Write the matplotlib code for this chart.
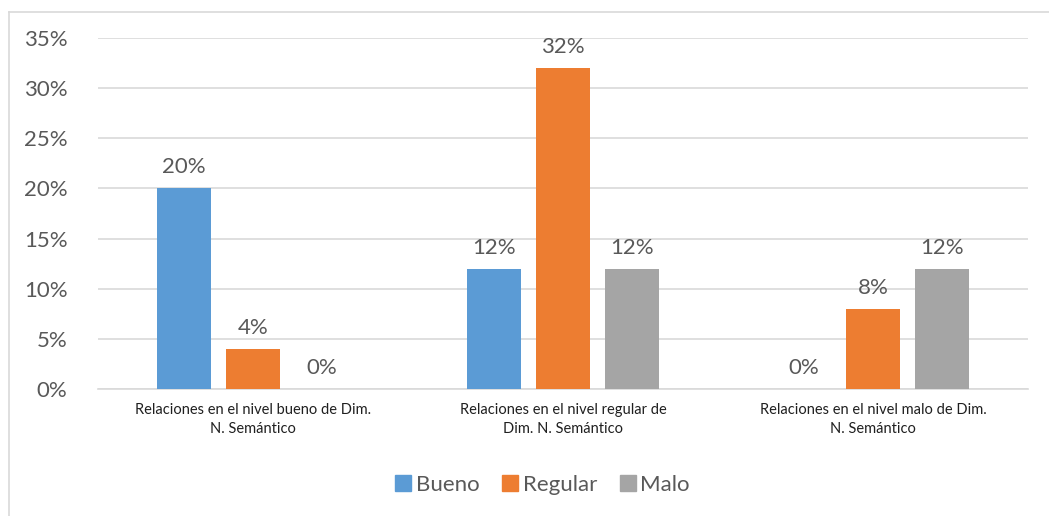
import matplotlib.pyplot as plt
import matplotlib.ticker
import numpy as np
from matplotlib.lines import Line2D

categories = [
    "Relaciones en el nivel bueno de Dim.\nN. Semántico",
    "Relaciones en el nivel regular de\nDim. N. Semántico",
    "Relaciones en el nivel malo de Dim.\nN. Semántico",
]
series_names = ["Bueno", "Regular", "Malo"]
bueno = [0.20, 0.12, 0.00]
regular = [0.04, 0.32, 0.08]
malo = [0.00, 0.12, 0.12]
colors = ["#5b9bd5", "#ed7d31", "#a5a5a5"]

plt.rcParams["font.family"] = ["Lato", "DejaVu Sans"]
text_color = "#595959"

fig = plt.figure(figsize=(10.49, 5.16), dpi=100)
ax = fig.add_axes([98 / 1049, 1 - 389 / 516, 930 / 1049, 351 / 516])

x = np.arange(len(categories))
width = 0.174
step = 0.2226
for i, (vals, name, color) in enumerate(zip([bueno, regular, malo], series_names, colors)):
    pos = x + (i - 1) * step
    ax.bar(pos, vals, width=width, color=color, zorder=3)
    for p, v in zip(pos, vals):
        ax.text(p, v + 0.011, f"{v * 100:.0f}%", ha="center", va="bottom",
                fontsize=16, color=text_color)

ax.set_xlim(-0.5, 2.5)
ax.set_ylim(0, 0.35)
ax.set_yticks(np.arange(0, 0.36, 0.05))
ax.yaxis.set_major_formatter(matplotlib.ticker.FuncFormatter(lambda v, _: f"{v * 100:.0f}%"))
ax.grid(axis="y", color="#d9d9d9", linewidth=1.2, zorder=0)
ax.set_xticks(x)
ax.set_xticklabels(categories, fontsize=10.5, color="#202020", linespacing=1.5)
ax.tick_params(axis="both", length=0)
ax.tick_params(axis="y", labelsize=16, labelcolor=text_color, pad=22)
ax.tick_params(axis="x", pad=10)
for s in ["top", "right", "left"]:
    ax.spines[s].set_visible(False)
ax.spines["bottom"].set_color("#d9d9d9")
ax.spines["bottom"].set_linewidth(1.2)

handles = [Line2D([0], [0], marker="s", linestyle="", markersize=11,
                  markerfacecolor=c, markeredgecolor=c) for c in colors]
fig.legend(handles, series_names, loc="center", bbox_to_anchor=(541 / 1049, 1 - 485 / 516),
           ncol=3, frameon=False, fontsize=16, labelcolor=text_color,
           handletextpad=0.05, columnspacing=0.9, handlelength=1.0)

# outer chart border (top and left visible)
fig.add_artist(Line2D([9 / 1049, 1], [1 - 12 / 516, 1 - 12 / 516], color="#d9d9d9", linewidth=1.2))
fig.add_artist(Line2D([9 / 1049, 9 / 1049], [1 - 12 / 516, 0], color="#d9d9d9", linewidth=1.2))

fig.savefig("out.png", dpi=100)
